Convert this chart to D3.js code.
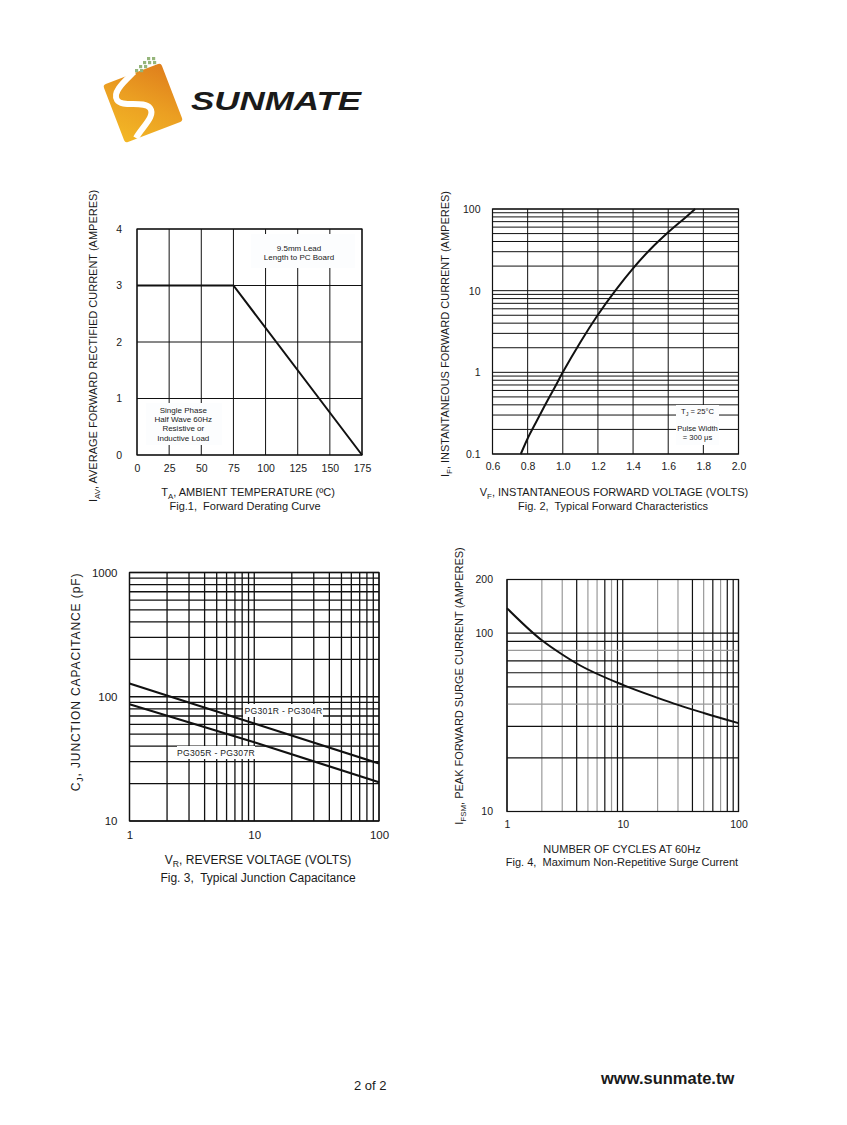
<!DOCTYPE html>
<html><head><meta charset="utf-8">
<script src="https://cdn.jsdelivr.net/npm/d3@7"></script>
<style>
body{margin:0;background:#fff;}
svg{display:block;}
text{font-family:"Liberation Sans", Arial, sans-serif;fill:#1a1a1a;white-space:pre;}
</style></head><body>
<svg id="page" width="847" height="1125"></svg>
<script>
// ---------- Fig.1 Forward Derating Curve ----------
const fig1Temp = [0, 75, 175];
const fig1Current = [3, 3, 0];
const fig1XTicks = [0, 25, 50, 75, 100, 125, 150, 175];
const fig1YTicks = [0, 1, 2, 3, 4];

// ---------- Fig.2 Typical Forward Characteristics ----------
const fig2Voltage = [0.761, 0.8, 0.85, 0.9, 0.95, 1.0, 1.1, 1.2, 1.3, 1.4, 1.5, 1.6, 1.7, 1.753];
const fig2Current = [0.1, 0.155, 0.25, 0.4, 0.63, 1.0, 2.34, 5.07, 10.1, 18.8, 32.4, 51.9, 79.4, 100];
const fig2XTicks = [0.6, 0.8, 1.0, 1.2, 1.4, 1.6, 1.8, 2.0];
const fig2YTicks = [0.1, 1, 10, 100];

// ---------- Fig.3 Typical Junction Capacitance ----------
const fig3Voltage = [1, 10, 100];
const fig3CapPG301 = [128, 61, 29];
const fig3CapPG305 = [87, 43, 20.5];
const fig3XTicks = [1, 10, 100];
const fig3YTicks = [10, 100, 1000];

// ---------- Fig.4 Maximum Non-Repetitive Surge Current ----------
const fig4Cycles = [1, 2, 3, 4, 10, 20, 30, 50, 100];
const fig4Current = [138, 91.2, 75.9, 67.6, 51.3, 43.4, 39.6, 35.7, 31.3];
const fig4XTicks = [1, 10, 100];
const fig4YTicks = [10, 100, 200];

const svg = d3.select("#page");
const INK = "#111";

function styleAxis(g, size) {
  g.select(".domain").remove();
  g.selectAll("text").attr("font-size", size || 10.5)
    .attr("font-family", '"Liberation Sans", Arial, sans-serif').attr("fill", "#1a1a1a");
}
function gridX(g, x, vals, y0, y1, color, w) {
  g.append("g").selectAll("line").data(vals).join("line")
    .attr("x1", d => x(d)).attr("x2", d => x(d)).attr("y1", y0).attr("y2", y1)
    .attr("stroke", typeof color === "function" ? color : () => color).attr("stroke-width", w || 1);
}
function gridY(g, y, vals, x0, x1, color, w) {
  g.append("g").selectAll("line").data(vals).join("line")
    .attr("y1", d => y(d)).attr("y2", d => y(d)).attr("x1", x0).attr("x2", x1)
    .attr("stroke", typeof color === "function" ? color : () => color).attr("stroke-width", w || 1);
}
function frame(g, x0, y0, x1, y1) {
  g.append("rect").attr("x", x0).attr("y", y0).attr("width", x1 - x0).attr("height", y1 - y0)
    .attr("fill", "none").attr("stroke", INK).attr("stroke-width", 1.2);
}
function addParts(t, parts, size) {
  parts.forEach(p => {
    const s = t.append("tspan").text(p[0]);
    if (p[1]) s.attr("font-size", size * 0.72).attr("dy", 3);
    else if (p[2]) s.attr("dy", -3);
  });
}
function rotLabel(x, y, parts, size, ls) {
  const t = svg.append("text").attr("transform", `translate(${x},${y}) rotate(-90)`)
    .attr("text-anchor", "middle").attr("font-size", size).attr("letter-spacing", ls || 0);
  addParts(t, parts, size);
  return t;
}
function hLabel(x, y, parts, size) {
  const t = svg.append("text").attr("x", x).attr("y", y)
    .attr("text-anchor", "middle").attr("font-size", size);
  addParts(t, parts, size);
  return t;
}
function boxText(cx, lines, ys, bx, by, bw, bh, size) {
  svg.append("rect").attr("x", bx).attr("y", by).attr("width", bw).attr("height", bh).attr("fill", "#fcfdfe");
  lines.forEach((l, i) => {
    svg.append("text").attr("x", cx).attr("y", ys[i]).attr("dy", "0.35em")
      .attr("text-anchor", "middle").attr("font-size", size || 8).text(l);
  });
}

// ================= LOGO =================
(function logo() {
  const defs = svg.append("defs");
  const lg = defs.append("linearGradient").attr("id", "lg").attr("x1", "0").attr("y1", "1").attr("x2", "1").attr("y2", "0");
  lg.append("stop").attr("offset", "0").attr("stop-color", "#f3b826");
  lg.append("stop").attr("offset", "0.5").attr("stop-color", "#eb9f22");
  lg.append("stop").attr("offset", "1").attr("stop-color", "#df7e1c");
  svg.append("rect").attr("x", 143 - 31).attr("y", 103 - 31).attr("width", 62).attr("height", 62)
    .attr("rx", 3).attr("fill", "url(#lg)").attr("transform", "rotate(-21,143,103)");
  svg.append("path").attr("d", "M134,72 C125,81 112,92 117,100 C122,108 144,100 150,108 C156,116 142,127 136,138")
    .attr("fill", "none").attr("stroke", "#fff").attr("stroke-width", 6);
  const dots = [[147, 57], [143, 61], [148, 61], [139, 65], [144, 65], [135, 69], [140, 69], [152, 57], [153, 61]];
  svg.append("g").selectAll("rect").data(dots).join("rect")
    .attr("x", d => d[0]).attr("y", d => d[1]).attr("width", 3.2).attr("height", 3.2).attr("fill", "#95b57a");
  svg.append("text").attr("x", 191).attr("y", 110).attr("font-family", '"DejaVu Sans", sans-serif')
    .attr("font-weight", "bold").attr("font-style", "italic").attr("font-size", 25)
    .attr("textLength", 170).attr("lengthAdjust", "spacingAndGlyphs").attr("fill", "#222").text("SUNMATE");
})();

// ================= FIG 1 =================
(function fig1() {
  const L = 137, R = 362, T = 229, B = 455;
  const x = d3.scaleLinear().domain([0, 175]).range([L, R]);
  const y = d3.scaleLinear().domain([0, 4]).range([B, T]);
  const g = svg.append("g");
  gridX(g, x, fig1XTicks, T, B, INK, 1);
  gridY(g, y, fig1YTicks, L, R, INK, 1);
  frame(g, L, T, R, B);
  boxText(x(126), ["9.5mm Lead", "Length to PC Board"], [248, 257.5], 251, 234, 104, 34, 8);
  boxText(x(36), ["Single Phase", "Half Wave 60Hz", "Resistive or", "Inductive Load"], [410, 419.3, 428.6, 437.9], 146, 403, 76, 42, 8);
  g.append("path").datum(fig1Temp.map((t, i) => [t, fig1Current[i]]))
    .attr("d", d3.line().x(d => x(d[0])).y(d => y(d[1])))
    .attr("fill", "none").attr("stroke", INK).attr("stroke-width", 2);
  const ax = svg.append("g").attr("transform", `translate(0,${B})`)
    .call(d3.axisBottom(x).tickValues(fig1XTicks).tickSize(0).tickPadding(10));
  styleAxis(ax, 10.5);
  const ay = svg.append("g").attr("transform", `translate(${L},0)`)
    .call(d3.axisLeft(y).tickValues(fig1YTicks).tickFormat(d3.format("d")).tickSize(0).tickPadding(15));
  styleAxis(ay, 10.5);
  rotLabel(97, 346, [["I"], ["AV", true], [", AVERAGE FORWARD RECTIFIED CURRENT (AMPERES)", false, true]], 11);
  hLabel(248, 496, [["T"], ["A", true], [", AMBIENT TEMPERATURE (ºC)", false, true]], 11);
  hLabel(245, 510, [["Fig.1,  Forward Derating Curve"]], 11);
})();

// ================= FIG 2 =================
(function fig2() {
  const L = 492.5, R = 738.5, T = 209, B = 454;
  const x = d3.scaleLinear().domain([0.6, 2.0]).range([L, R]);
  const y = d3.scaleLog().domain([0.1, 100]).range([B, T]);
  const g = svg.append("g");
  gridX(g, x, fig2XTicks, T, B, INK, 1);
  gridY(g, y, y.ticks(), L, R, INK, 1);
  frame(g, L, T, R, B);
  // legend
  svg.append("rect").attr("x", 676).attr("y", 405).attr("width", 43).attr("height", 40).attr("fill", "#fcfdfe");
  svg.append("text").attr("x", 697.5).attr("y", 411.5).attr("dy", "0.35em").attr("text-anchor", "middle").attr("font-size", 7.6)
    .call(t => { t.append("tspan").text("T"); t.append("tspan").text("J").attr("font-size", 5.5).attr("dy", 2); t.append("tspan").text(" = 25°C").attr("dy", -2); });
  svg.append("text").attr("x", 697.5).attr("y", 428.5).attr("dy", "0.35em").attr("text-anchor", "middle").attr("font-size", 7.6).text("Pulse Width");
  svg.append("text").attr("x", 697.5).attr("y", 437.7).attr("dy", "0.35em").attr("text-anchor", "middle").attr("font-size", 7.6).text("= 300 μs");
  g.append("path").datum(fig2Voltage.map((v, i) => [v, fig2Current[i]]))
    .attr("d", d3.line().curve(d3.curveMonotoneX).x(d => x(d[0])).y(d => y(d[1])))
    .attr("fill", "none").attr("stroke", INK).attr("stroke-width", 2);
  const ax = svg.append("g").attr("transform", `translate(0,${B})`)
    .call(d3.axisBottom(x).tickValues(fig2XTicks).tickFormat(d3.format(".1f")).tickSize(0).tickPadding(9));
  styleAxis(ax, 10.5);
  const ay = svg.append("g").attr("transform", `translate(${L},0)`)
    .call(d3.axisLeft(y).tickValues(fig2YTicks).tickFormat(d => String(d)).tickSize(0).tickPadding(12));
  styleAxis(ay, 10.5);
  rotLabel(449, 334, [["I"], ["F", true], [", INSTANTANEOUS FORWARD CURRENT (AMPERES)", false, true]], 11);
  hLabel(614, 496, [["V"], ["F", true], [", INSTANTANEOUS FORWARD VOLTAGE (VOLTS)", false, true]], 11);
  hLabel(613, 510, [["Fig. 2,  Typical Forward Characteristics"]], 11);
})();

// ================= FIG 3 =================
(function fig3() {
  const L = 129.5, R = 379, T = 572.5, B = 821;
  const x = d3.scaleLog().domain([1, 100]).range([L, R]);
  const y = d3.scaleLog().domain([10, 1000]).range([B, T]);
  const g = svg.append("g");
  gridX(g, x, x.ticks(), T, B, INK, 1.3);
  gridY(g, y, y.ticks(), L, R, INK, 1.3);
  frame(g, L, T, R, B);
  const line = d3.line().x(d => x(d[0])).y(d => y(d[1]));
  g.append("path").datum(fig3Voltage.map((v, i) => [v, fig3CapPG301[i]])).attr("d", line)
    .attr("fill", "none").attr("stroke", INK).attr("stroke-width", 2.2);
  g.append("path").datum(fig3Voltage.map((v, i) => [v, fig3CapPG305[i]])).attr("d", line)
    .attr("fill", "none").attr("stroke", INK).attr("stroke-width", 2.2);
  svg.append("rect").attr("x", 243).attr("y", 704).attr("width", 80).attr("height", 13).attr("fill", "#fcfdfe");
  svg.append("text").attr("x", 283.5).attr("y", 711).attr("dy", "0.35em").attr("text-anchor", "middle").attr("font-size", 8.6).attr("letter-spacing", 0.3).text("PG301R - PG304R");
  svg.append("rect").attr("x", 177).attr("y", 746).attr("width", 78).attr("height", 13).attr("fill", "#fcfdfe");
  svg.append("text").attr("x", 216).attr("y", 752.7).attr("dy", "0.35em").attr("text-anchor", "middle").attr("font-size", 8.6).attr("letter-spacing", 0.3).text("PG305R - PG307R");
  const ax = svg.append("g").attr("transform", `translate(0,${B})`)
    .call(d3.axisBottom(x).tickValues(fig3XTicks).tickFormat(d => String(d)).tickSize(0).tickPadding(10));
  styleAxis(ax, 11.5);
  const ay = svg.append("g").attr("transform", `translate(${L},0)`)
    .call(d3.axisLeft(y).tickValues(fig3YTicks).tickFormat(d => String(d)).tickSize(0).tickPadding(12));
  styleAxis(ay, 11.5);
  rotLabel(80, 682, [["C"], ["J", true], [", JUNCTION CAPACITANCE (pF)", false, true]], 12, 0.9);
  hLabel(258, 864, [["V"], ["R", true], [", REVERSE VOLTAGE (VOLTS)", false, true]], 12);
  hLabel(258, 882, [["Fig. 3,  Typical Junction Capacitance"]], 12);
})();

// ================= FIG 4 =================
(function fig4() {
  const L = 507, R = 738.5, T = 579.5, B = 811.5;
  const x = d3.scaleLog().domain([1, 100]).range([L, R]);
  const y = d3.scaleLog().domain([10, 200]).range([B, T]);
  const g = svg.append("g");
  const grayX = new Set([2, 3, 5, 6, 8, 20, 30, 50, 70]);
  const grayY = new Set([80, 40]);
  gridX(g, x, x.ticks(), T, B, d => grayX.has(d) ? "#9a9a9a" : INK, 1.2);
  gridY(g, y, y.ticks().filter(d => d <= 100), L, R, d => grayY.has(d) ? "#9a9a9a" : INK, 1.2);
  frame(g, L, T, R, B);
  g.append("path").datum(fig4Cycles.map((c, i) => [c, fig4Current[i]]))
    .attr("d", d3.line().curve(d3.curveMonotoneX).x(d => x(d[0])).y(d => y(d[1])))
    .attr("fill", "none").attr("stroke", INK).attr("stroke-width", 2);
  const ax = svg.append("g").attr("transform", `translate(0,${B})`)
    .call(d3.axisBottom(x).tickValues(fig4XTicks).tickFormat(d => String(d)).tickSize(0).tickPadding(9));
  styleAxis(ax, 10.5);
  const ay = svg.append("g").attr("transform", `translate(${L},0)`)
    .call(d3.axisLeft(y).tickValues(fig4YTicks).tickFormat(d => String(d)).tickSize(0).tickPadding(14));
  styleAxis(ay, 10.5);
  rotLabel(463, 686, [["I"], ["FSM", true], [", PEAK FORWARD SURGE CURRENT (AMPERES)", false, true]], 11);
  hLabel(622, 853, [["NUMBER OF CYCLES AT 60Hz"]], 11);
  hLabel(622, 866, [["Fig. 4,  Maximum Non-Repetitive Surge Current"]], 11);
})();

// ================= FOOTER =================
svg.append("text").attr("x", 354).attr("y", 1089.5).attr("font-size", 13).text("2 of 2");
svg.append("text").attr("x", 601).attr("y", 1083.5).attr("font-size", 16.5).attr("font-weight", "bold").text("www.sunmate.tw");
</script>
</body></html>
